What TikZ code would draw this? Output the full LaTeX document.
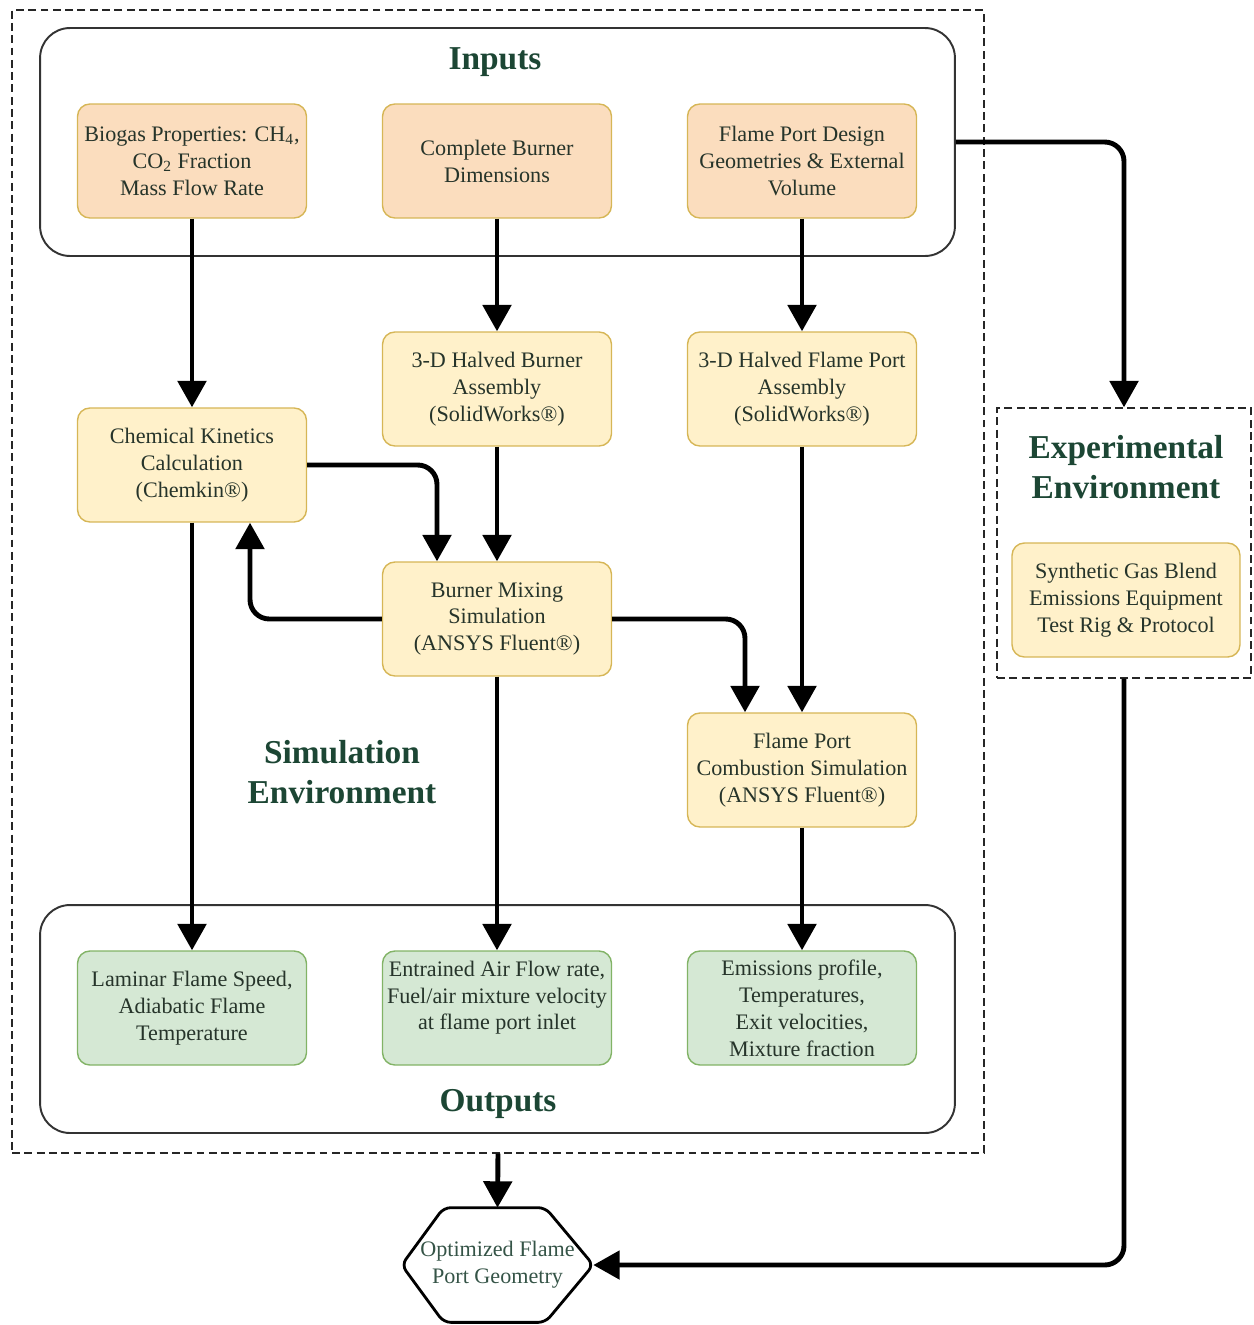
\documentclass[tikz,border=0pt]{standalone}
\usepackage{fontspec}
\setmainfont{Liberation Serif}
\usetikzlibrary{arrows.meta,calc}
\definecolor{peachfill}{HTML}{FBDDBE}
\definecolor{yelfill}{HTML}{FFF1CA}
\definecolor{yelline}{HTML}{D6B656}
\definecolor{grnfill}{HTML}{D5E8D4}
\definecolor{grnline}{HTML}{82B366}
\definecolor{txtcol}{HTML}{26342A}
\definecolor{ttlcol}{HTML}{1C4634}
\tikzset{
  box/.style={draw=yelline, line width=0.8pt, rounded corners=7pt, minimum width=4.58cm, minimum height=2.28cm, align=center, text=txtcol, inner sep=2pt, font=\fontsize{12.6}{15.3}\selectfont},
  inbox/.style={box, fill=peachfill},
  simbox/.style={box, fill=yelfill},
  outbox/.style={box, fill=grnfill, draw=grnline},
  group/.style={draw=black!80, line width=1.1pt, rounded corners=17pt, minimum width=18.3cm, minimum height=4.56cm},
  env/.style={draw=black!85, dashed, dash pattern=on 4.5pt off 2.5pt, line width=0.8pt},
  ttl/.style={text=ttlcol, font=\fontsize{19}{23}\selectfont\bfseries, align=center},
  flow/.style={line width=2.8pt, rounded corners=11pt, -{Triangle[length=15pt,width=16pt]}}
}
\begin{document}
\begin{tikzpicture}[x=0.02cm,y=-0.02cm]
\useasboundingbox (0,0) rectangle (1254,1325);
% environment frames
\node[env, minimum width=19.44cm, minimum height=22.86cm] (sim) at (498,581.5) {};
\node[env, minimum width=5.08cm, minimum height=5.4cm] (exp) at (1124,543) {};
% groups
\node[group] (inputs) at (497.5,142) {};
\node[group] (outputs) at (497.5,1019) {};
% titles
\node[ttl] (tin) at (495,62) {Inputs};
\node[ttl] (tout) at (498,1104) {Outputs};
\node[ttl] (tsim) at (342,772) {Simulation\\Environment};
\node[ttl] (texp) at (1126,467) {Experimental\\Environment};
% input nodes
\node[inbox] (bio) at (192,161) {Biogas Properties: CH\textsubscript{4},\\CO\textsubscript{2} Fraction\\Mass Flow Rate};
\node[inbox] (cbd) at (497,161) {Complete Burner\\Dimensions};
\node[inbox] (fpd) at (802,161) {Flame Port Design\\Geometries \& External\\Volume};
% simulation nodes
\node[simbox] (hba) at (497,389) {3-D Halved Burner\\Assembly\\(SolidWorks®)};
\node[simbox] (hfa) at (802,389) {3-D Halved Flame Port\\Assembly\\(SolidWorks®)};
\node[simbox] (chem) at (192,465) {Chemical Kinetics\\Calculation\\(Chemkin®)};
\node[simbox] (mix) at (497,619) {Burner Mixing\\Simulation\\(ANSYS Fluent®)};
\node[simbox] (fpc) at (802,770) {Flame Port\\Combustion Simulation\\(ANSYS Fluent®)};
% experimental node
\node[simbox, minimum width=4.56cm] (syn) at (1126,600) {Synthetic Gas Blend\\Emissions Equipment\\Test Rig \& Protocol};
% output nodes
\node[outbox] (lam) at (192,1008) {Laminar Flame Speed,\\Adiabatic Flame\\Temperature};
\node[outbox] (ent) at (497,1008) {\parbox[c][2.1cm][t]{4.4cm}{\centering\vspace*{3pt}Entrained Air Flow rate,\\Fuel/air mixture velocity\\at flame port inlet}};
\node[outbox] (emi) at (802,1008) {Emissions profile,\\Temperatures,\\Exit velocities,\\Mixture fraction};
% final hexagon
\node[minimum width=3.82cm, minimum height=2.28cm, inner sep=0pt, align=center, text=ttlcol!75!gray, font=\fontsize{12.6}{15.3}\selectfont] (hex) at (497.5,1265) {Optimized Flame\\Port Geometry};
\draw[line width=1.6pt, rounded corners=4pt, line join=round]
  (hex.west) -- ($(hex.north west)+(42,0)$) -- ($(hex.north east)+(-48,0)$) -- (hex.east)
  -- ($(hex.south east)+(-48,0)$) -- ($(hex.south west)+(42,0)$) -- cycle;
% connectors
\draw[flow] (bio) -- (chem);
\draw[flow] (cbd) -- (hba);
\draw[flow] (fpd) -- (hfa);
\draw[flow] (inputs.east) -| (exp.north);
\draw[flow] (chem.east) -| ($(mix.north)+(-60,0)$);
\draw[flow] (hba) -- (mix);
\draw[flow] (mix.west) -| ($(chem.south)+(58,0)$);
\draw[flow] (mix.east) -| ($(fpc.north)+(-57,0)$);
\draw[flow] (hfa) -- (fpc);
\draw[flow] (chem) -- (lam);
\draw[flow] (mix) -- (ent);
\draw[flow] (fpc) -- (emi);
\draw[flow] (sim.south) -- (hex.north);
\draw[flow] (exp.south) |- (hex.east);
\end{tikzpicture}
\end{document}
